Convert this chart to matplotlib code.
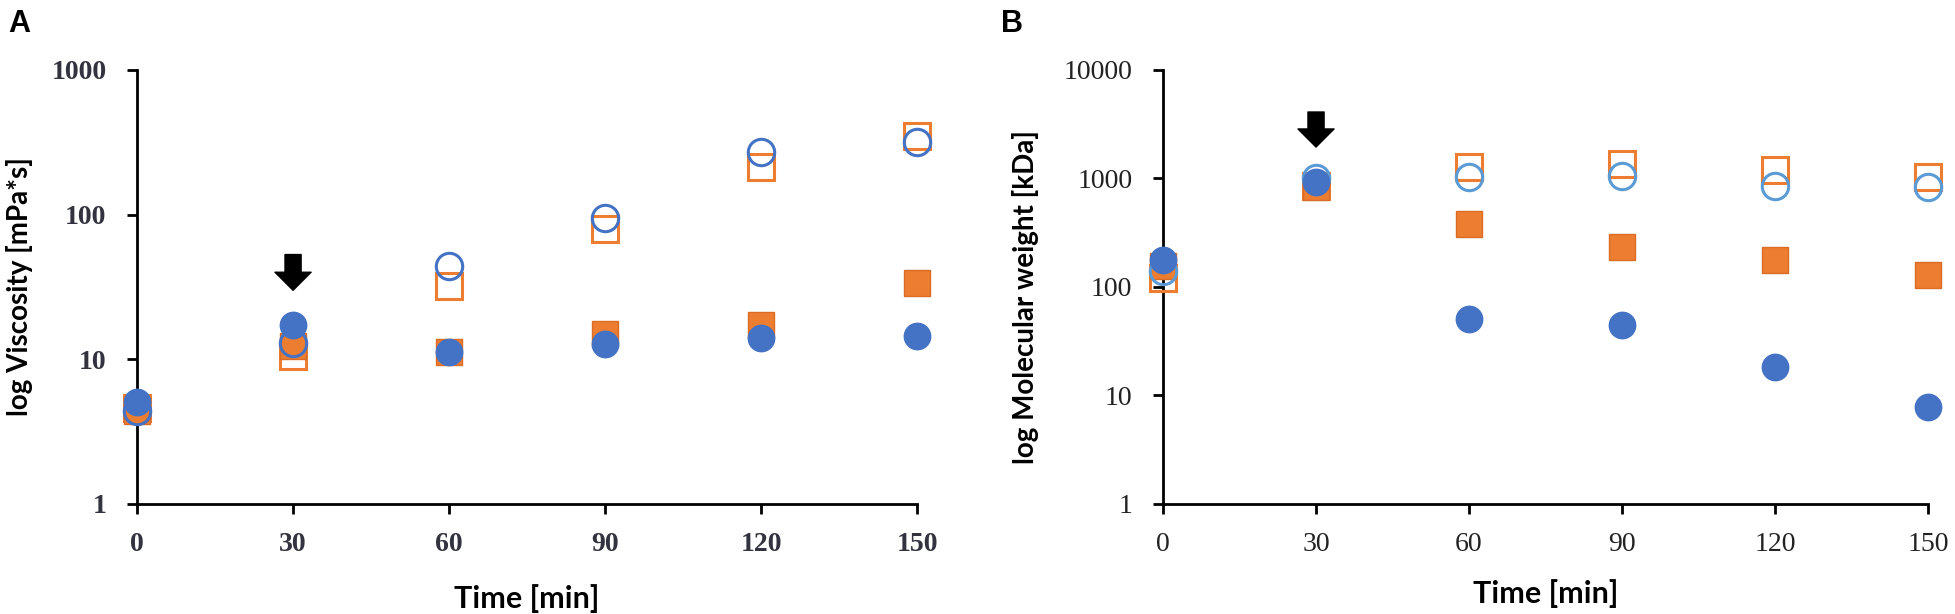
import matplotlib.pyplot as plt

# time points [min]
time = [0, 30, 60, 90, 120, 150]

# panel A - viscosity [mPa*s]
visc_open_sq = [4.6, 10.5, 32, 80, 213, 349]
visc_open_ci = [4.4, 12.9, 44, 95, 271, 318]
visc_fill_sq = [4.4, 12.4, 11.2, 15.0, 17.3, 33.7]
visc_fill_ci = [5.1, 17.3, 11.2, 12.8, 14.0, 14.5]

# panel B - molecular weight [kDa]
mw_open_sq = [122, 850, 1277, 1361, 1198, 1032]
mw_open_ci = [140, 1000, 1032, 1055, 853, 835]
mw_fill_sq = [155, 835, 381, 234, 177, 129]
mw_fill_ci = [177, 929, 51, 45, 18.3, 7.8]

# arrow (tail, tip) marking the 30 min point
arrow_a = (53, 30)
arrow_b = (4100, 1950)

orange = '#ED7D31'
blue = '#4472C4'
light_blue = '#5B9BD5'

plt.rcParams['font.family'] = ['Liberation Serif', 'DejaVu Serif']

fig = plt.figure(figsize=(19.55, 6.14), dpi=100)
axA = fig.add_axes([0.0701, 0.1792, 0.399, 0.7068])
axB = fig.add_axes([0.5949, 0.1792, 0.3913, 0.7068])


def draw(ax, osq, oci, fsq, fci, ci_color):
    ms = 19
    ax.plot(time, osq, 's', ms=ms, mfc='none', mec=orange, mew=2.2, clip_on=False, zorder=3)
    ax.plot(time, fsq, 's', ms=ms, mfc=orange, mec='#DA6C24', mew=1, clip_on=False, zorder=4)
    ax.plot(time, oci, 'o', ms=ms, mfc='none', mec=ci_color, mew=2.2, clip_on=False, zorder=5)
    ax.plot(time, fci, 'o', ms=ms, mfc=blue, mec=blue, mew=1, clip_on=False, zorder=6)


draw(axA, visc_open_sq, visc_open_ci, visc_fill_sq, visc_fill_ci, blue)
draw(axB, mw_open_sq, mw_open_ci, mw_fill_sq, mw_fill_ci, light_blue)

for ax, arr in [(axA, arrow_a), (axB, arrow_b)]:
    ax.annotate('', xy=(30, arr[1]), xytext=(30, arr[0]),
                arrowprops=dict(arrowstyle='simple,head_length=0.65,head_width=1.3,tail_width=0.58',
                                fc='black', ec='black', shrinkA=0, shrinkB=0, mutation_scale=20))

axA.set_yscale('log')
axA.set_ylim(1, 1000)
axA.set_yticks([1, 10, 100, 1000])
axA.set_yticklabels(['1', '10', '100', '1000'])
axB.set_yscale('log')
axB.set_ylim(1, 10000)
axB.set_yticks([1, 10, 100, 1000, 10000])
axB.set_yticklabels(['1', '10', '100', '1000', '10000'])

for ax in (axA, axB):
    ax.set_xlim(0, 150)
    ax.set_xticks(time)
    ax.minorticks_off()
    ax.spines['top'].set_visible(False)
    ax.spines['right'].set_visible(False)
    ax.spines['left'].set_linewidth(2)
    ax.spines['bottom'].set_linewidth(2)
    ax.tick_params(axis='both', direction='out', length=7, width=2)
    ax.tick_params(axis='y', pad=15)
    ax.tick_params(axis='x', pad=13)
    ax.set_xlabel('Time [min]', family=['Lato', 'DejaVu Sans'], fontweight='bold', fontsize=22)

axA.tick_params(labelsize=20, labelcolor='#333340')
for lab in axA.get_xticklabels() + axA.get_yticklabels():
    lab.set_fontweight('bold')
axB.tick_params(labelsize=20, labelcolor='#222222')

axA.set_ylabel('log Viscosity [mPa*s]', family=['Lato', 'DejaVu Sans'], fontweight='bold', fontsize=20)
axB.set_ylabel('log Molecular weight [kDa]', family=['Lato', 'DejaVu Sans'], fontweight='bold', fontsize=20)
axA.yaxis.set_label_coords(-0.133, 0.5)
axB.yaxis.set_label_coords(-0.162, 0.477)
axA.xaxis.set_label_coords(0.5, -0.185)
axB.xaxis.set_label_coords(0.5, -0.173)

fig.text(0.004, 0.985, 'A', family=['Liberation Sans', 'DejaVu Sans'], fontweight='bold', fontsize=22, va='top')
fig.text(0.512, 0.985, 'B', family=['Liberation Sans', 'DejaVu Sans'], fontweight='bold', fontsize=22, va='top')

fig.savefig('out.png', dpi=100)
